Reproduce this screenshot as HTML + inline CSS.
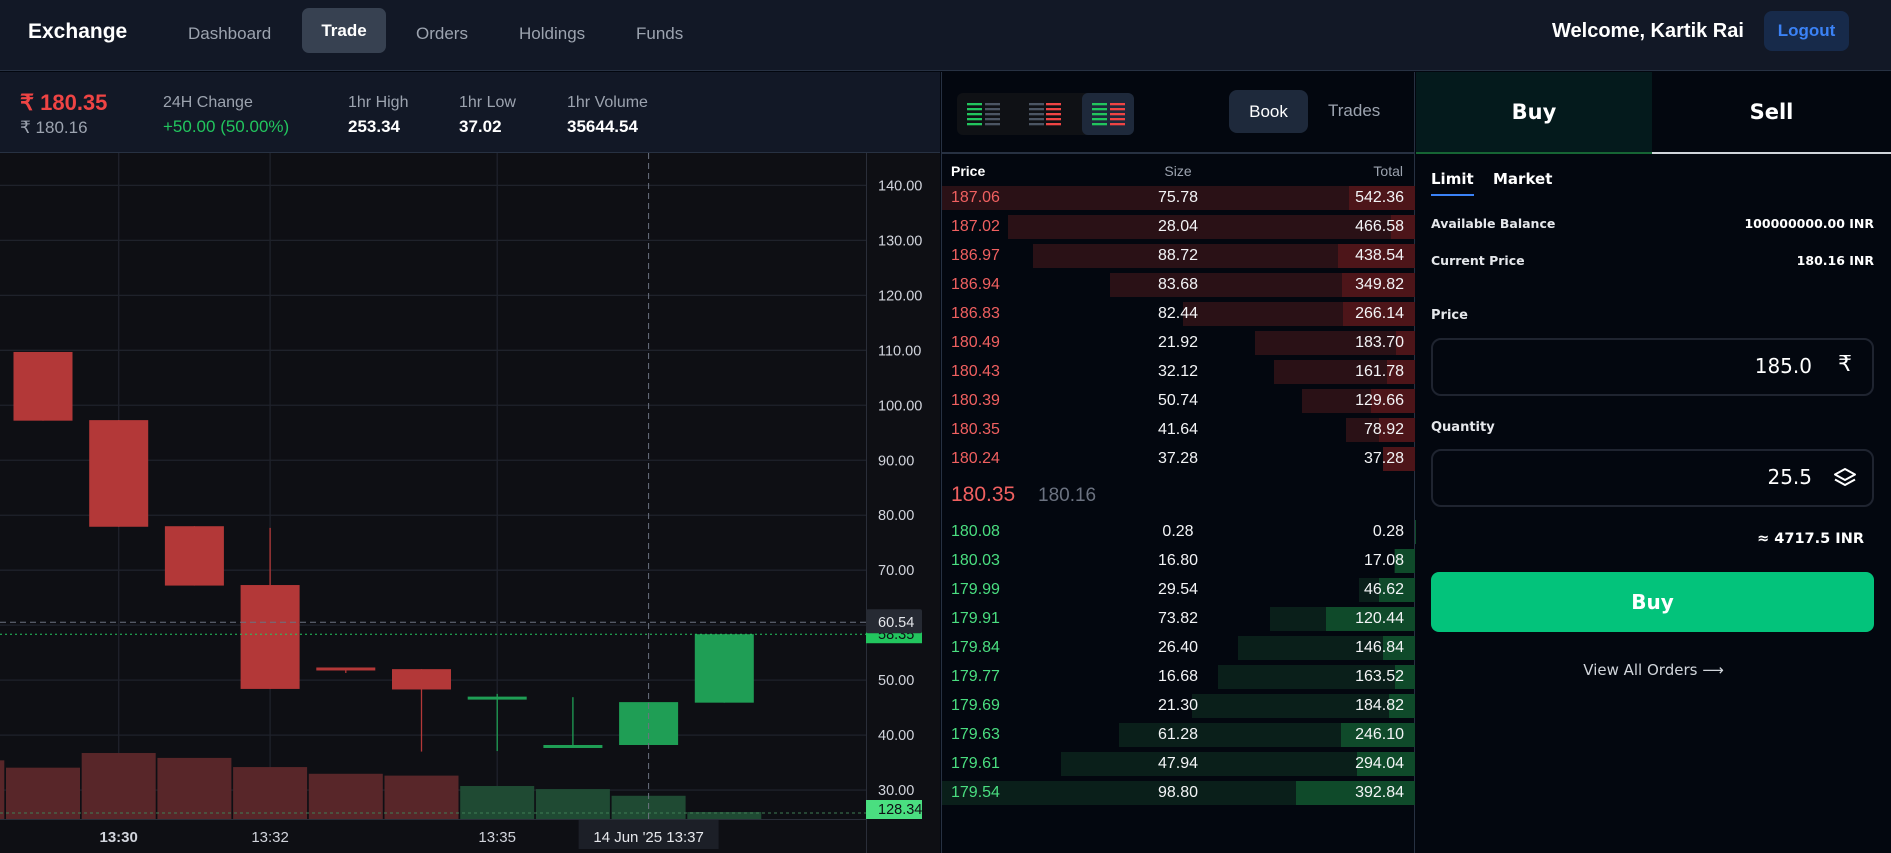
<!DOCTYPE html>
<html><head><meta charset="utf-8">
<style>
*{box-sizing:border-box;margin:0;padding:0}
body{width:1891px;height:853px;background:#03070f;font-family:"Liberation Sans",sans-serif;overflow:hidden;position:relative;color:#e5e7eb}
.abs{position:absolute}
#nav{left:0;top:0;width:1891px;height:71px;background:#121826;border-bottom:1px solid #273142}
.navi{top:24px;font-size:17px;color:#9ca3af}
#stats{left:0;top:72px;width:940px;height:81px;background:#121826;border-bottom:1px solid #273142}
.lbl{font-size:16px;color:#9ca3af}
.val{font-size:17px;color:#fff;font-weight:bold}
#book{left:941px;top:72px;width:474px;height:781px;background:#03070f;border-left:1px solid #273142;border-right:1px solid #273142}
.row{position:absolute;left:0;width:473px;height:24px}
.row span{position:absolute;top:3px;font-size:16px}
#side{left:1416px;top:72px;width:475px;height:781px;background:#03070f}
.ff{font-family:"DejaVu Sans","Liberation Sans",sans-serif}
</style></head><body>
<div id="nav" class="abs">
 <div class="abs" style="left:28px;top:20px;font-size:21px;font-weight:bold;color:#fff">Exchange</div>
 <div class="abs navi" style="left:188px">Dashboard</div>
 <div class="abs" style="left:302px;top:8px;width:84px;height:45px;background:#374151;border-radius:7px;color:#fff;font-size:17px;font-weight:bold;text-align:center;line-height:45px">Trade</div>
 <div class="abs navi" style="left:416px">Orders</div>
 <div class="abs navi" style="left:519px">Holdings</div>
 <div class="abs navi" style="left:636px">Funds</div>
 <div class="abs" style="left:1552px;top:20px;font-size:20px;font-weight:bold;color:#fff">Welcome, Kartik Rai</div>
 <div class="abs" style="left:1764px;top:11px;width:85px;height:40px;background:#172a4a;border-radius:8px;color:#3b82f6;font-size:17px;font-weight:bold;text-align:center;line-height:40px">Logout</div>
</div>
<div id="stats" class="abs">
 <div class="abs" style="left:20px;top:18px;font-size:22px;font-weight:bold;color:#ef4444">₹ 180.35</div>
 <div class="abs" style="left:20px;top:46px;font-size:17px;color:#9ca3af">₹ 180.16</div>
 <div class="abs lbl" style="left:163px;top:22px">24H Change</div>
 <div class="abs" style="left:163px;top:45px;font-size:17px;color:#22c55e">+50.00 (50.00%)</div>
 <div class="abs lbl" style="left:348px;top:22px">1hr High</div>
 <div class="abs val" style="left:348px;top:45px">253.34</div>
 <div class="abs lbl" style="left:459px;top:22px">1hr Low</div>
 <div class="abs val" style="left:459px;top:45px">37.02</div>
 <div class="abs lbl" style="left:567px;top:22px">1hr Volume</div>
 <div class="abs val" style="left:567px;top:45px">35644.54</div>
</div>
<svg id="chart" class="abs" style="left:0;top:153px" width="940" height="700"></svg>

<div id="book" class="abs">
 <div class="abs" style="left:15px;top:21px;width:177px;height:42px;background:#0f1115;border-radius:6px"></div>
 <div class="abs" style="left:140px;top:21px;width:52px;height:42px;background:#1e293b;border-radius:6px"></div>
 <svg class="abs" style="left:15px;top:21px" width="177" height="42">
  <g fill="#22c55e"><rect x="10" y="10" width="15" height="2.3"/><rect x="10" y="15" width="15" height="2.3"/><rect x="10" y="20" width="15" height="2.3"/><rect x="10" y="25" width="15" height="2.3"/><rect x="10" y="30" width="15" height="2.3"/></g>
  <g fill="#4b5563"><rect x="28" y="10" width="15" height="2.3"/><rect x="28" y="15" width="15" height="2.3"/><rect x="28" y="20" width="15" height="2.3"/><rect x="28" y="25" width="15" height="2.3"/><rect x="28" y="30" width="15" height="2.3"/></g>
  <g fill="#4b5563"><rect x="72" y="10" width="15" height="2.3"/><rect x="72" y="15" width="15" height="2.3"/><rect x="72" y="20" width="15" height="2.3"/><rect x="72" y="25" width="15" height="2.3"/><rect x="72" y="30" width="15" height="2.3"/></g>
  <g fill="#ef4444"><rect x="89" y="10" width="15" height="2.3"/><rect x="89" y="15" width="15" height="2.3"/><rect x="89" y="20" width="15" height="2.3"/><rect x="89" y="25" width="15" height="2.3"/><rect x="89" y="30" width="15" height="2.3"/></g>
  <g fill="#22c55e"><rect x="135" y="10" width="15" height="2.3"/><rect x="135" y="15" width="15" height="2.3"/><rect x="135" y="20" width="15" height="2.3"/><rect x="135" y="25" width="15" height="2.3"/><rect x="135" y="30" width="15" height="2.3"/></g>
  <g fill="#ef4444"><rect x="153" y="10" width="15" height="2.3"/><rect x="153" y="15" width="15" height="2.3"/><rect x="153" y="20" width="15" height="2.3"/><rect x="153" y="25" width="15" height="2.3"/><rect x="153" y="30" width="15" height="2.3"/></g>
 </svg>
 <div class="abs" style="left:287px;top:18px;width:79px;height:43px;background:#1e293b;border-radius:8px;color:#fff;font-size:17px;text-align:center;line-height:43px">Book</div>
 <div class="abs" style="left:386px;top:29px;color:#9ca3af;font-size:17px">Trades</div>
 <div class="abs" style="left:0;top:80px;width:473px;height:2px;background:#273142"></div>
 <div class="abs" style="left:9px;top:91px;font-size:14px;font-weight:bold;color:#fff">Price</div>
 <div class="abs" style="left:196px;top:91px;font-size:14px;color:#9ca3af;width:80px;text-align:center">Size</div>
 <div class="abs" style="right:11px;top:91px;font-size:14px;color:#9ca3af">Total</div>
 <div id="asks"></div>
 <div class="abs" style="left:9px;top:411px;font-size:21px;color:#f06060">180.35</div>
 <div class="abs" style="left:96px;top:413px;font-size:19px;color:#6b7280">180.16</div>
 <div id="bids"></div>
</div>

<div id="side" class="abs">
 <div class="abs ff" style="left:0;top:0;width:236px;height:82px;background:#041a1c;border-bottom:2px solid #166534;color:#fff;font-size:21px;font-weight:bold;text-align:center;line-height:80px">Buy</div>
 <div class="abs ff" style="left:236px;top:0;width:239px;height:82px;border-bottom:2px solid #d1d5db;color:#fff;font-size:21px;font-weight:bold;text-align:center;line-height:80px">Sell</div>
 <div class="abs ff" style="left:15px;top:98px;font-size:15px;font-weight:bold;color:#fff;border-bottom:2px solid #3b82f6;padding-bottom:6px">Limit</div>
 <div class="abs ff" style="left:77px;top:98px;font-size:15px;font-weight:bold;color:#fff">Market</div>
 <div class="abs ff" style="left:15px;top:144px;font-size:12.5px;color:#e5e7eb;font-weight:bold">Available Balance</div>
 <div class="abs ff" style="right:17px;top:144px;font-size:12.5px;color:#fff;font-weight:bold">100000000.00 INR</div>
 <div class="abs ff" style="left:15px;top:181px;font-size:12.5px;color:#e5e7eb;font-weight:bold">Current Price</div>
 <div class="abs ff" style="right:17px;top:181px;font-size:12.5px;color:#fff;font-weight:bold">180.16 INR</div>
 <div class="abs ff" style="left:15px;top:236px;font-size:13px;color:#e5e7eb;font-weight:bold">Price</div>
 <div class="abs" style="left:15px;top:266px;width:443px;height:58px;border:2px solid #1f2430;border-radius:10px">
  <div class="abs ff" style="right:60px;top:14px;font-size:20px;color:#fff">185.0</div>
  <div class="abs ff" style="right:20px;top:12px;font-size:22px;color:#fff">₹</div>
 </div>
 <div class="abs ff" style="left:15px;top:348px;font-size:13px;color:#e5e7eb;font-weight:bold">Quantity</div>
 <div class="abs" style="left:15px;top:377px;width:443px;height:58px;border:2px solid #1f2430;border-radius:10px">
  <div class="abs ff" style="right:60px;top:14px;font-size:20px;color:#fff">25.5</div>
  <svg class="abs" style="right:14px;top:15px" width="26" height="24"><path d="M13 3 L23 8.5 L13 14 L3 8.5 Z M3 13.5 L13 19 L23 13.5" fill="none" stroke="#fff" stroke-width="2" stroke-linejoin="round"/></svg>
 </div>
 <div class="abs ff" style="right:27px;top:459px;font-size:14.5px;color:#fff;font-weight:bold">≈ 4717.5 INR</div>
 <div class="abs ff" style="left:15px;top:500px;width:443px;height:60px;background:#03c37b;border-radius:8px;color:#fff;font-size:20px;font-weight:bold;text-align:center;line-height:60px">Buy</div>
 <div class="abs ff" style="left:0;width:475px;top:589px;text-align:center;font-size:15px;color:#d1d5db">View All Orders ⟶</div>
</div>

<script>
// ---- chart data ----
const times = ["13:29","13:30","13:31","13:32","13:33","13:34","13:35","13:36","13:37","13:38"];
const opens  = [109.7, 97.3, 78.0, 67.3, 52.3, 52.0, 46.6, 37.7, 38.2, 45.9];
const highs  = [109.7, 97.3, 78.0, 77.7, 52.3, 52.0, 47.5, 46.9, 46.0, 58.35];
const lows   = [97.2, 77.9, 67.2, 48.4, 51.3, 37.0, 37.1, 37.7, 38.2, 45.9];
const closes = [97.2, 77.9, 67.2, 48.4, 52.0, 48.3, 47.0, 38.2, 46.0, 58.35];
const volumes = [420, 540, 500, 425, 370, 355, 270, 245, 190, 57];
const prevVolume = 480;
const priceTicks = [140,130,120,110,100,90,80,70,60,50,40,30];
const timeTickIdx = [1,3,6];
const crossPrice = 60.54;
const crossIdx = 8;
const volumeLabel = "128.34";

const NS="http://www.w3.org/2000/svg";
const svg=document.getElementById('chart');
function yP(p){return 32.4+(140-p)*5.497;}
function xI(i){return 43+i*75.7;}
function yV(v){return 666-v*0.1222;}
function mk(tag,attrs,parent){const e=document.createElementNS(NS,tag);for(const k in attrs)e.setAttribute(k,attrs[k]);(parent||svg).appendChild(e);return e;}
mk('rect',{x:0,y:0,width:940,height:700,fill:'#0e0f14'});
priceTicks.forEach(t=>{
  const l=mk('line',{x1:0,x2:866,y1:yP(t),y2:yP(t),stroke:'#1f222b','stroke-width':1.3});
  
  
});
timeTickIdx.forEach(i=>{
  const l=mk('line',{x1:xI(i),x2:xI(i),y1:0,y2:666,stroke:'#1f222b','stroke-width':1.3});
  
  
});
const pv=mk('rect',{x:xI(-1)-37,y:yV(prevVolume),width:74,height:666-yV(prevVolume),fill:'#582629'});


volumes.forEach((v,i)=>{
  const up=closes[i]>=opens[i];
  const r=mk('rect',{x:xI(i)-37,y:yV(v),width:74,height:666-yV(v),fill:up?'#1f4a33':'#582629'});
  
  
});
mk('line',{x1:0,x2:866,y1:yV(volumes[volumes.length-1])+1,y2:yV(volumes[volumes.length-1])+1,stroke:'#3f7d55','stroke-width':1,'stroke-dasharray':'3 3'});
opens.forEach((o,i)=>{
  const c=closes[i],up=c>=o,col=up?'#1f9e55':'#b33838';
  const x=xI(i);
  const w=mk('line',{x1:x,x2:x,y1:yP(highs[i]),y2:yP(lows[i]),stroke:col,'stroke-width':1.3});
  
  
  const top=yP(Math.max(o,c)),bot=yP(Math.min(o,c));
  const b=mk('rect',{x:x-29.5,y:top,width:59,height:Math.max(bot-top,3),fill:col});
  
  
});
const lastY=yP(closes[closes.length-1]);
mk('line',{x1:0,x2:866,y1:lastY,y2:lastY,stroke:'#22c55e','stroke-width':1,'stroke-dasharray':'2 3'});
mk('line',{x1:0,x2:866,y1:yP(crossPrice),y2:yP(crossPrice),stroke:'#6b7280','stroke-width':1,'stroke-dasharray':'6 4'});
mk('line',{x1:xI(crossIdx),x2:xI(crossIdx),y1:0,y2:666,stroke:'#6b7280','stroke-width':1,'stroke-dasharray':'6 4'});
mk('line',{x1:866.5,x2:866.5,y1:0,y2:700,stroke:'#2a2e39','stroke-width':1});
mk('line',{x1:0,x2:866,y1:666.5,y2:666.5,stroke:'#2a2e39','stroke-width':1});
priceTicks.forEach(t=>{
  if(t===60)return;
  const tx=mk('text',{x:878,y:yP(t)+5,fill:'#d1d4dc','font-size':14.5,'font-family':'Liberation Sans, sans-serif'});
  tx.textContent=t.toFixed(2);
  
  
});
mk('rect',{x:866,y:lastY-9,width:56,height:18,fill:'#22c55e'});
const lt=mk('text',{x:878,y:lastY+5,fill:'#0e0f14','font-size':14.5,'font-family':'Liberation Sans, sans-serif'});
lt.textContent=closes[closes.length-1].toFixed(2);
mk('rect',{x:866,y:yP(crossPrice)-13,width:56,height:24,fill:'#262a33',rx:2});
const ct=mk('text',{x:878,y:yP(crossPrice)+5,fill:'#e5e7eb','font-size':14.5,'font-family':'Liberation Sans, sans-serif'});
ct.textContent=crossPrice.toFixed(2);


mk('rect',{x:866,y:647,width:56,height:19,fill:'#4ade80'});
const vt=mk('text',{x:878,y:661,fill:'#0e0f14','font-size':14.5,'font-family':'Liberation Sans, sans-serif'});
vt.textContent=volumeLabel;


timeTickIdx.forEach(i=>{
  const t=mk('text',{x:xI(i),y:689,fill:'#d1d4dc','font-size':15,'text-anchor':'middle','font-weight':i===1?'bold':'normal','font-family':'Liberation Sans, sans-serif'});
  t.textContent=times[i];
  
  
});
mk('rect',{x:xI(crossIdx)-70,y:667,width:140,height:29,fill:'#1c1f27'});
const tt=mk('text',{x:xI(crossIdx),y:689,fill:'#e5e7eb','font-size':15,'text-anchor':'middle','font-family':'Liberation Sans, sans-serif'});
tt.textContent="14 Jun '25   "+times[crossIdx];
tt.setAttribute('xml:space','preserve');



// ---- order book data ----
const askPrices=["187.06","187.02","186.97","186.94","186.83","180.49","180.43","180.39","180.35","180.24"];
const askSizes=[75.78,28.04,88.72,83.68,82.44,21.92,32.12,50.74,41.64,37.28];
const askTotals=[542.36,466.58,438.54,349.82,266.14,183.70,161.78,129.66,78.92,37.28];
const bidPrices=["180.08","180.03","179.99","179.91","179.84","179.77","179.69","179.63","179.61","179.54"];
const bidSizes=[0.28,16.80,29.54,73.82,26.40,16.68,21.30,61.28,47.94,98.80];
const bidTotals=[0.28,17.08,46.62,120.44,146.84,163.52,184.82,246.10,294.04,392.84];

function buildSide(id,prices,sizes,totals,top0,pc,bg1,bg2,name){
  const host=document.getElementById(id);
  const max=Math.max(...totals);
  prices.forEach((p,i)=>{
    const r=document.createElement('div');
    r.className='row';
    r.style.top=(top0+i*29)+'px';
    
    
    const wt=totals[i]/max*473, ws=sizes[i]/max*473;
    r.innerHTML='<div style="position:absolute;right:0;top:0;height:24px;width:'+wt+'px;background:'+bg1+'"></div>'+
      '<div style="position:absolute;right:0;top:0;height:24px;width:'+ws+'px;background:'+bg2+'"></div>'+
      '<span style="left:9px;color:'+pc+'">'+p+'</span>'+
      '<span style="left:196px;width:80px;text-align:center;color:#f3f4f6">'+sizes[i].toFixed(2)+'</span>'+
      '<span style="right:11px;color:#f3f4f6">'+totals[i].toFixed(2)+'</span>';
    host.appendChild(r);
  });
}
buildSide('asks',askPrices,askSizes,askTotals,114,'#f06060','#2a1116','#4d1519','ask-row');
buildSide('bids',bidPrices,bidSizes,bidTotals,448,'#4ade80','#0a1f1a','#0f4a2a','bid-row');
</script>
</body></html>
